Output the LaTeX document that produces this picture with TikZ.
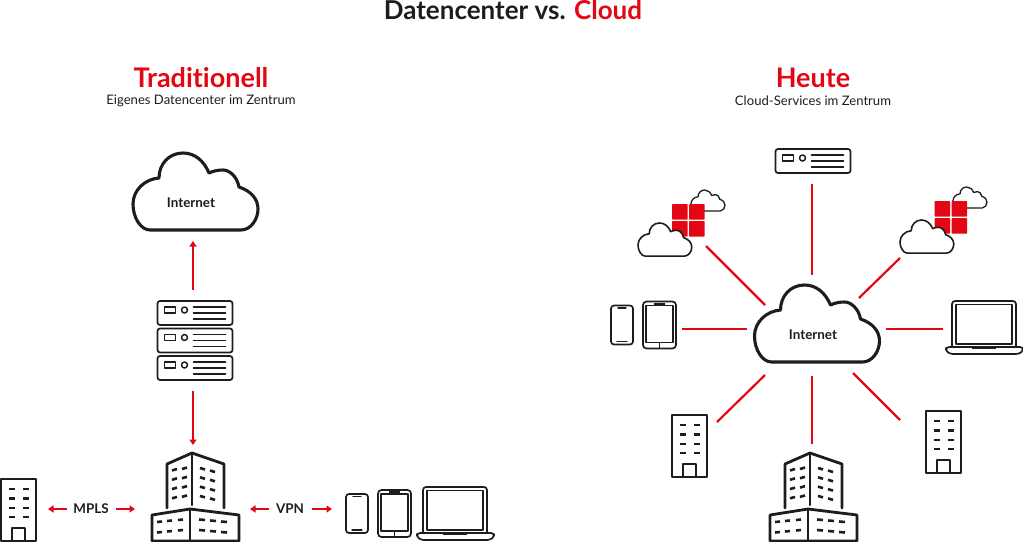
\documentclass[tikz,border=0pt]{standalone}
\usepackage{fontspec}
\setmainfont[Ligatures=NoCommon]{Lato}
\usetikzlibrary{arrows.meta}
\definecolor{rd}{HTML}{E30613}
\definecolor{ink}{HTML}{1D1D1B}
\tikzset{
  x=1pt,y=-1pt,
  icon/.style={draw=ink,line join=round,line cap=round},
  link/.style={draw=rd,line width=2.2pt},
  arr/.style={draw=rd,line width=1.9pt,-{Triangle[length=5.5pt,width=7pt]}},
  lbl/.style={text=ink,font=\fontsize{13.4}{15}\selectfont\bfseries,inner sep=0pt},
  head/.style={text=rd,font=\fontsize{27}{30}\selectfont\bfseries,inner sep=0pt},
  subhead/.style={text=ink,font=\fontsize{13.1}{15}\selectfont,inner sep=0pt},
}
% #1 x, #2 y, #3 scale, #4 line width
\newcommand\cloudicon[4]{\begin{scope}[shift={(#1,#2)},x=#3pt,y=-#3pt]
 \draw[icon,fill=white,line width=#4pt] (17,77) -- (108,77) .. controls (118,77) and (125,66) .. (125,56)
 .. controls (125,46) and (118,38) .. (106,34) .. controls (104,23) and (96,17) .. (90,17)
 .. controls (85,17) and (80,18) .. (76,20) .. controls (71,8) and (62,0) .. (50,0)
 .. controls (36,0) and (26,11) .. (26,25) .. controls (12,26) and (0,37) .. (0,51)
 .. controls (0,65) and (8,77) .. (17,77) -- cycle;
\end{scope}}
\newcommand\servericon[2]{\begin{scope}[shift={(#1,#2)}]
 \draw[icon,line width=1.7pt,rounded corners=2.5pt] (0,0) rectangle (75,24);
 \draw[icon,line width=1.5pt] (7,6) rectangle (18,12);
 \draw[icon,line width=1.5pt] (27,9) circle (3);
 \draw[icon,line width=1.6pt] (36,6) -- (68,6) (36,12) -- (68,12) (36,18) -- (68,18);
\end{scope}}
\newcommand\smallbuilding[2]{\begin{scope}[shift={(#1,#2)}]
 \draw[icon,line width=2.2pt] (1,63) -- (1,1) -- (36,1) -- (36,63) -- cycle;
 \draw[icon,line width=2.2pt] (12,63) -- (12,50) -- (25,50) -- (25,63);
 \foreach \yy in {11,20.5,30,39}{
  \draw[icon,line width=2.4pt,line cap=butt] (9,\yy) -- (15,\yy) (23,\yy) -- (29,\yy);}
\end{scope}}
\newcommand\bigbuilding[2]{\begin{scope}[shift={(#1,#2)}]
 \draw[icon,line width=2.8pt] (167,508) -- (167,464) -- (192,453) -- (224,464) -- (224,508);
 \draw[icon,line width=2.4pt] (192,453) -- (192,505);
 \draw[icon,line width=2.8pt] (152,541) -- (152,515) -- (190,509) -- (239,515) -- (239,541) -- cycle;
 \draw[icon,line width=2.4pt] (190,509) -- (190,541);
 \foreach \yy in {0,9.3,18.6,27.9}{
  \draw[icon,line width=2.6pt,line cap=butt] (172,470.5+\yy) -- (177,469+\yy) (182,469+\yy) -- (187,467.5+\yy);
  \draw[icon,line width=2.6pt,line cap=butt] (200,468+\yy) -- (205,469.5+\yy) (210,470.5+\yy) -- (215,472+\yy);}
 \foreach \yy in {0,10.5}{
  \draw[icon,line width=2.6pt,line cap=butt] (157,522+\yy) -- (162,521.5+\yy) (167,521+\yy) -- (172,520.5+\yy) (178,520+\yy) -- (183,519.5+\yy);
  \draw[icon,line width=2.6pt,line cap=butt] (199,519.5+\yy) -- (205,520+\yy) (210,520.5+\yy) -- (216,521+\yy) (221,521.5+\yy) -- (227,522+\yy);}
\end{scope}}
\newcommand\phoneicon[2]{\begin{scope}[shift={(#1,#2)}]
 \draw[icon,line width=1.7pt,rounded corners=3pt] (0,0) rectangle (22,39);
 \draw[icon,line width=1.3pt] (7,2.5) -- (15,2.5) (6,36) -- (16,36);
\end{scope}}
\newcommand\tableticon[2]{\begin{scope}[shift={(#1,#2)}]
 \draw[icon,line width=1.7pt,rounded corners=3.5pt] (0,0) rectangle (33,47);
 \draw[icon,line width=1.4pt] (3,4) rectangle (30,41);
 \draw[icon,line width=1.8pt,line cap=butt] (11,2.2) -- (22,2.2);
 \draw[icon,line width=1.3pt] (16.5,42) -- (16.5,46);
\end{scope}}
\newcommand\laptopicon[2]{\begin{scope}[shift={(#1,#2)}]
 \draw[icon,line width=1.7pt,rounded corners=3pt] (6,46) -- (6,0) -- (70,0) -- (70,46);
 \draw[icon,line width=1.4pt] (10,3.5) rectangle (66,43);
 \draw[icon,line width=1.7pt,rounded corners=3pt] (0,46) -- (77,46) -- (77,50) -- (73,53) -- (4,53) -- (0,50) -- cycle;
 \draw[icon,line width=1.8pt,line cap=butt] (26,47.5) -- (50,47.5);
\end{scope}}
\newcommand\gridicon[2]{\begin{scope}[shift={(#1,#2)}]
 \foreach \a/\b in {0/0,17/0,0/17,17/17}{
  \fill[rd,rounded corners=0.8pt] (\a,\b) rectangle (\a+15.7,\b+15.7);}
\end{scope}}
\begin{document}
\begin{tikzpicture}
\useasboundingbox (0,0) rectangle (1023,541);
% title
\node[inner sep=0pt,font=\fontsize{26}{29}\selectfont\bfseries,text=ink] (title) at (513,10) {Datencenter vs. \textcolor{rd}{Cloud}};
\node[head] (trad) at (201,78) {Traditionell};
\node[subhead] (tradsub) at (201,101) {Eigenes Datencenter im Zentrum};
\node[head] (heute) at (813,78) {Heute};
\node[subhead] (heutesub) at (813,101) {Cloud-Services im Zentrum};
% left side
\cloudicon{133}{153}{1}{3.1}
\node[lbl] (inetL) at (191,203) {Internet};
\servericon{157.5}{301}
\servericon{157.5}{328.5}
\servericon{157.5}{356}
\smallbuilding{0}{478}
\bigbuilding{0}{0}
\phoneicon{346}{494}
\tableticon{378}{490}
\laptopicon{417}{487}
\node[lbl] (mpls) at (91,509) {MPLS};
\node[lbl] (vpn) at (290,509) {VPN};
\coordinate (cloudLb) at (193,241);
\coordinate (stackT) at (193,290);
\coordinate (stackB) at (193,391);
\coordinate (bigT) at (193,445);
\coordinate (smallR) at (48,509);
\coordinate (bigL) at (135,509);
\coordinate (bigR) at (250,509);
\coordinate (devL) at (332,509);
\coordinate (mplsL) at (67,509);
\coordinate (mplsR) at (116,509);
\coordinate (vpnL) at (269,509);
\coordinate (vpnR) at (312,509);
\draw[arr] (stackT) -- (cloudLb);
\draw[arr] (stackB) -- (bigT);
\draw[arr] (mplsL) -- (smallR);
\draw[arr] (mplsR) -- (bigL);
\draw[arr] (vpnL) -- (bigR);
\draw[arr] (vpnR) -- (devL);
% right side
\cloudicon{754.5}{285}{1}{3.1}
\node[lbl] (inetR) at (813,335) {Internet};
\servericon{775.5}{149}
\cloudicon{691}{190}{0.272}{1.3}
\gridicon{672}{204}
\cloudicon{638}{223}{0.43}{1.6}
\cloudicon{953}{187}{0.272}{1.3}
\gridicon{934.5}{201}
\cloudicon{900}{220}{0.43}{1.6}
\phoneicon{611}{305.5}
\tableticon{643}{301.5}
\laptopicon{946}{301}
\smallbuilding{671}{414}
\smallbuilding{925}{410}
\bigbuilding{618}{0}
\coordinate (cN) at (812,275);
\coordinate (srvB) at (812,184);
\coordinate (cNW) at (765,305);
\coordinate (azL) at (706,246);
\coordinate (cW) at (747,329);
\coordinate (devR) at (682,329);
\coordinate (cNE) at (859,298);
\coordinate (azR) at (900,258);
\coordinate (cE) at (886,329);
\coordinate (lapL) at (943,329);
\coordinate (cSW) at (765,375);
\coordinate (bldA) at (717,422);
\coordinate (cS) at (812,376);
\coordinate (bldB) at (812,444);
\coordinate (cSE) at (853,373);
\coordinate (bldC) at (900,420);
\foreach \p/\q in {cN/srvB,cNW/azL,cW/devR,cNE/azR,cE/lapL,cSW/bldA,cS/bldB,cSE/bldC}{
 \draw[link] (\p) -- (\q);}
\end{tikzpicture}
\end{document}
